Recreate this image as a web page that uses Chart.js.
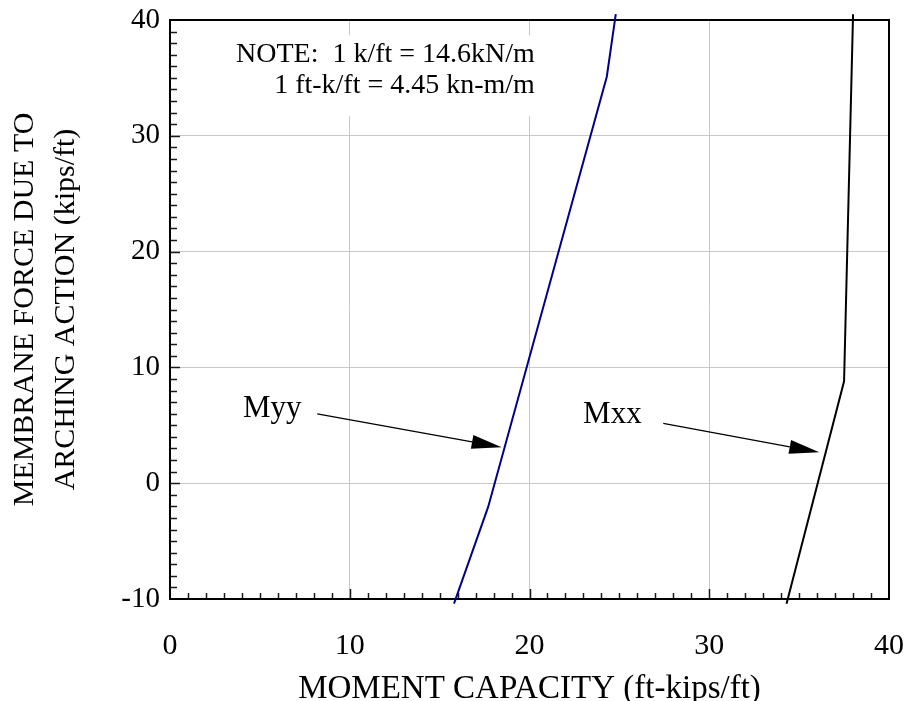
<!DOCTYPE html>
<html><head><meta charset="utf-8">
<script src="https://cdn.jsdelivr.net/npm/chart.js@4.4.0/dist/chart.umd.min.js"></script>
<style>html,body{margin:0;padding:0;background:#fff;}</style>
</head><body>
<canvas id="c" width="907" height="701" style="width:907px;height:701px;display:block"></canvas>
<script>
// ---- data ----
const xTicks = [0, 10, 20, 30, 40];
const yTicks = [-10, 0, 10, 20, 30, 40];
const myyX = [15.8, 17.7, 24.3, 24.8];
const myyY = [-10.4, -2.05, 35.1, 40.5];
const mxxX = [34.3, 37.5, 38.0];
const mxxY = [-10.4, 8.8, 40.5];
const noteLines = ['NOTE:  1 k/ft = 14.6kN/m', '1 ft-k/ft = 4.45 kn-m/m'];
const curveLabels = ['Myy', 'Mxx'];
const xTitle = 'MOMENT CAPACITY (ft-kips/ft)';
const yTitle = ['MEMBRANE FORCE DUE TO', 'ARCHING ACTION (kips/ft)'];

const FONT = "'Liberation Serif', 'Times New Roman', serif";
const toPts = (xs, ys) => xs.map((x, i) => ({x: x, y: ys[i]}));
const noPad = s => { s.paddingLeft = 0; s.paddingRight = 0; s.paddingTop = 0; s.paddingBottom = 0; };

const decor = {
  id: 'decor',
  beforeDatasetsDraw(chart) {
    const ctx = chart.ctx, xs = chart.scales.x, ys = chart.scales.y;
    const a = chart.chartArea;
    ctx.save();
    // note background box (hides grid lines)
    ctx.fillStyle = '#fff';
    const bx0 = xs.getPixelForValue(3.0), bx1 = xs.getPixelForValue(20.6);
    const by0 = ys.getPixelForValue(38.7), by1 = ys.getPixelForValue(31.7);
    ctx.fillRect(bx0, by0, bx1 - bx0, by1 - by0);
    // minor/major inside ticks
    ctx.strokeStyle = '#1a1a1a';
    ctx.lineWidth = 1.5;
    ctx.beginPath();
    for (let v = 1; v < 40; v++) {
      const px = Math.round(xs.getPixelForValue(v)) + 0.5;
      const len = (v % 10 === 0) ? 10 : 6;
      ctx.moveTo(px, a.bottom); ctx.lineTo(px, a.bottom - len);
    }
    for (let v = -9; v < 40; v++) {
      const py = Math.round(ys.getPixelForValue(v)) + 0.5;
      const len = (v % 10 === 0) ? 10 : 7;
      ctx.moveTo(a.left, py); ctx.lineTo(a.left + len, py);
    }
    ctx.stroke();
    // frame
    ctx.strokeStyle = '#000';
    ctx.lineWidth = 2;
    ctx.strokeRect(a.left, a.top, a.right - a.left, a.bottom - a.top);
    // note text
    ctx.fillStyle = '#000';
    ctx.font = '28px ' + FONT;
    ctx.textAlign = 'right';
    ctx.textBaseline = 'alphabetic';
    const tx = xs.getPixelForValue(20.3);
    ctx.fillText(noteLines[0], tx, ys.getPixelForValue(36.37));
    ctx.fillText(noteLines[1], tx, ys.getPixelForValue(33.7));
    ctx.restore();
  },
  afterDatasetsDraw(chart) {
    const ctx = chart.ctx, xs = chart.scales.x, ys = chart.scales.y;
    ctx.save();
    ctx.fillStyle = '#000';
    ctx.font = '31px ' + FONT;
    ctx.textAlign = 'left';
    ctx.textBaseline = 'alphabetic';
    ctx.fillText(curveLabels[0], xs.getPixelForValue(4.06), ys.getPixelForValue(5.74));
    ctx.fillText(curveLabels[1], xs.getPixelForValue(22.98), ys.getPixelForValue(5.2));
    const arrow = (x0, y0, x1, y1) => {
      const p0x = xs.getPixelForValue(x0), p0y = ys.getPixelForValue(y0);
      const p1x = xs.getPixelForValue(x1), p1y = ys.getPixelForValue(y1);
      const ang = Math.atan2(p1y - p0y, p1x - p0x);
      const L = 30, W = 7;
      const bx = p1x - L * Math.cos(ang), by = p1y - L * Math.sin(ang);
      ctx.strokeStyle = '#000'; ctx.lineWidth = 1.3;
      ctx.beginPath(); ctx.moveTo(p0x, p0y); ctx.lineTo(bx, by); ctx.stroke();
      ctx.beginPath();
      ctx.moveTo(p1x, p1y);
      ctx.lineTo(bx + W * Math.sin(ang), by - W * Math.cos(ang));
      ctx.lineTo(bx - W * Math.sin(ang), by + W * Math.cos(ang));
      ctx.closePath(); ctx.fill();
    };
    arrow(8.19, 5.98, 18.45, 3.1);
    arrow(27.44, 5.17, 36.12, 2.67);
    ctx.restore();
  }
};

new Chart(document.getElementById('c'), {
  type: 'scatter',
  data: {
    datasets: [
      { label: 'Myy', data: toPts(myyX, myyY), showLine: true, borderColor: '#00008C',
        borderWidth: 2, pointRadius: 0, tension: 0, clip: false },
      { label: 'Mxx', data: toPts(mxxX, mxxY), showLine: true, borderColor: '#000000',
        borderWidth: 2, pointRadius: 0, tension: 0, clip: false }
    ]
  },
  options: {
    responsive: false,
    animation: false,
    devicePixelRatio: 1,
    layout: { padding: { top: 20, right: 18, left: 0, bottom: 0 } },
    plugins: { legend: { display: false }, tooltip: { enabled: false } },
    scales: {
      x: {
        type: 'linear', min: 0, max: 40,
        afterBuildTicks(s) { s.ticks = xTicks.map(v => ({value: v})); },
        afterFit(s) { s.height = 102; noPad(s); },
        grid: { color: '#c8c8c8', lineWidth: 1, drawTicks: false },
        border: { display: false },
        ticks: { color: '#000', font: { family: FONT, size: 30 }, padding: 29, maxRotation: 0 },
        title: { display: true, text: xTitle, color: '#000', font: { family: FONT, size: 33, lineHeight: 0.7 }, padding: { top: 0, bottom: 0 } }
      },
      y: {
        type: 'linear', min: -10, max: 40,
        afterBuildTicks(s) { s.ticks = yTicks.map(v => ({value: v})); },
        afterFit(s) { s.width = 170; noPad(s); },
        grid: { color: '#c8c8c8', lineWidth: 1, drawTicks: false },
        border: { display: false },
        ticks: { color: '#000', font: { family: FONT, size: 29 }, padding: 10 },
        title: { display: true, text: yTitle, color: '#000', font: { family: FONT, size: 30, lineHeight: 1.35 }, padding: { top: 5, bottom: 0 } }
      }
    }
  },
  plugins: [decor]
});
</script>
</body></html>
